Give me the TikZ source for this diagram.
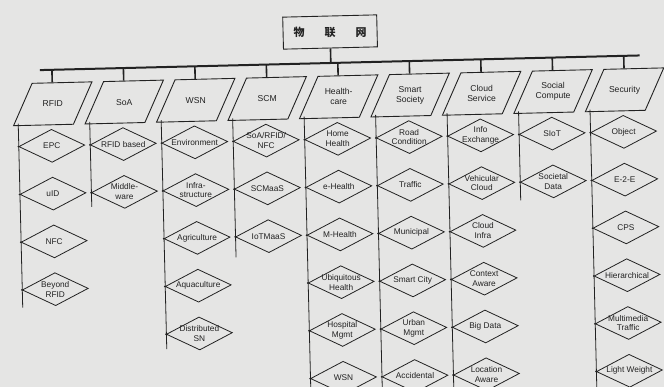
\documentclass[tikz,border=0pt]{standalone}
\usepackage{fontspec}
\setmainfont{Liberation Sans}
\newfontfamily\cjkfont{Noto Sans CJK SC}
\usetikzlibrary{shapes.geometric}
\definecolor{bg}{RGB}{229,229,228}
\definecolor{ink}{RGB}{34,34,34}
\tikzset{
  topbox/.style={draw=ink, line width=0.9pt, minimum width=94pt, minimum height=32pt, inner sep=0pt, text=ink, transform shape},
  para/.style={trapezium, trapezium left angle=65, trapezium right angle=115,
    minimum width=80pt, minimum height=38pt, inner sep=1pt, draw=ink, line width=0.9pt, transform shape},
  dia/.style={diamond, minimum width=66pt, minimum height=33pt, inner sep=1pt, draw=ink, line width=0.8pt, transform shape},
  lab/.style={font=\fontsize{8.3}{9.8}\selectfont, text=ink, align=center, inner sep=0pt},
  plab/.style={font=\fontsize{8.6}{10}\selectfont, text=ink, align=center, inner sep=0pt},
  busline/.style={draw=ink, line width=2pt},
  dropline/.style={draw=ink, line width=1.6pt},
  colline/.style={draw=ink, line width=0.8pt},
  jdot/.style={circle, fill=ink, inner sep=0pt, minimum size=1.8pt},
}
% #1 key, #2 centre x, #3 title, #4 end y of column line, #5 items
\newcommand\mkcol[5]{%
  \node[para, label={[plab]center:{#3}}] (p#1) at (#2,97) {\phantom{x}};
  \coordinate (b#1) at (#2,63);
  \draw[dropline] (b#1) -- (p#1.north);
  \coordinate (t#1) at (#2-35,116);
  \coordinate (e#1) at (#2-35,#4);
  \draw[colline] (t#1) -- (e#1);
  \foreach \t [count=\i from 0] in {#5} {
    \node[dia, label={[lab]center:\t}] (d#1-\i) at (#2-2,139+47.8*\i) {\phantom{x}};
    \node[jdot] (j#1-\i) at (d#1-\i.west) {};
  }
}
\begin{document}
\begin{tikzpicture}[x=1pt,y=-1pt]
\fill[bg] (0,0) rectangle (664,387);
\useasboundingbox (0,0) rectangle (664,387);
\clip (0,0) rectangle (664,387);
\begin{scope}[rotate around={1.4:(332,193)}]
  \node[topbox] (top) at (334,32) {};
  \node[text=ink, inner sep=0pt] (toptext) at (top.center) {\fontsize{11}{12}\cjkfont\bfseries 物\hspace{20pt}联\hspace{20pt}网};
  \coordinate (busL) at (43,63);
  \coordinate (busR) at (643,63);
  \coordinate (btop) at (334,63);
  \draw[busline] (busL) -- (busR);
  \draw[dropline] (top.south) -- (btop);
  \mkcol{a}{55}{RFID}{300}{EPC, uID, NFC, {Beyond\\RFID}}
  \mkcol{b}{126.5}{SoA}{201}{RFID based, {Middle-\\ware}}
  \mkcol{c}{198}{WSN}{345}{Environment, {Infra-\\structure}, Agriculture, Aquaculture, {Distributed\\SN}}
  \mkcol{d}{269.5}{SCM}{255}{{SoA/RFID/\\NFC}, SCMaaS, IoTMaaS}
  \mkcol{e}{341}{Health-\\care}{420}{{Home\\Health}, e-Health, M-Health, {Ubiquitous\\Health}, {Hospital\\Mgmt}, WSN}
  \mkcol{f}{412.5}{Smart\\Society}{420}{{Road\\Condition}, Traffic, Municipal, Smart City, {Urban\\Mgmt}, Accidental}
  \mkcol{g}{484}{Cloud\\Service}{420}{{Info\\Exchange}, {Vehicular\\Cloud}, {Cloud\\Infra}, {Context\\Aware}, Big Data, {Location\\Aware}}
  \mkcol{h}{555.5}{Social\\Compute}{205}{SIoT, {Societal\\Data}}
  \mkcol{k}{627}{Security}{420}{Object, E-2-E, CPS, Hierarchical, {Multimedia\\Traffic}, Light Weight}
\end{scope}
\end{tikzpicture}
\end{document}
